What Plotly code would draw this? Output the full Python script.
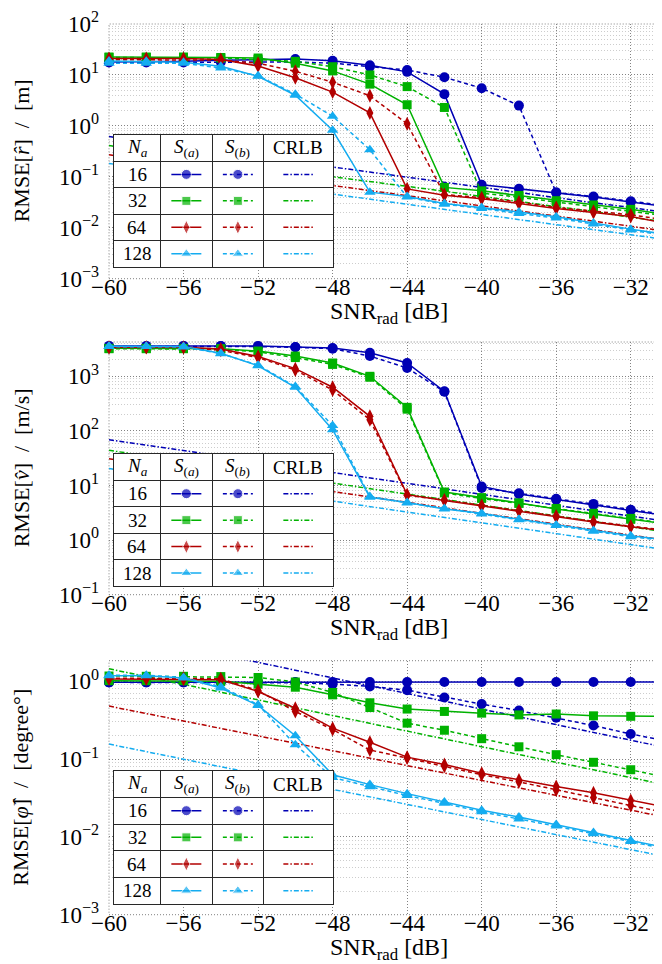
import plotly.graph_objects as go

# ---------------- data ----------------
SNR = [-60, -58, -56, -54, -52, -50, -48, -46, -44, -42, -40, -38, -36, -34, -32, -30]
X_TICKS = [-60, -56, -52, -48, -44, -40, -36, -32]
X_TICK_LABELS = ["−60", "−56", "−52", "−48", "−44", "−40", "−36", "−32"]
NA = [16, 32, 64, 128]

# Panel 1: RMSE of range [m]
r_sa_16 = [18, 18, 18.5, 19.5, 20, 20.5, 19, 15.5, 11.5, 4.2, 0.070, 0.058, 0.049, 0.040, 0.032, 0.026]
r_sb_16 = [17.5, 17.5, 17.5, 18, 18, 18, 17, 14.5, 12.5, 9.0, 5.5, 2.5, 0.049, 0.041, 0.033, 0.027]
r_cr_16 = [0.62, 0.49, 0.39, 0.31, 0.25, 0.196, 0.156, 0.124, 0.098, 0.078, 0.062, 0.049, 0.039, 0.031, 0.025, 0.0196]
r_sa_32 = [22.5, 22.5, 22.5, 22, 21.5, 17, 12, 6.6, 2.6, 0.062, 0.053, 0.043, 0.034, 0.028, 0.023, 0.018]
r_sb_32 = [22, 22, 22, 21.5, 20, 18.5, 14.5, 10, 5.9, 2.3, 0.048, 0.040, 0.032, 0.026, 0.021, 0.017]
r_cr_32 = [0.41, 0.33, 0.26, 0.21, 0.16, 0.13, 0.10, 0.082, 0.065, 0.052, 0.041, 0.033, 0.026, 0.021, 0.016, 0.013]
r_sa_64 = [21, 21, 21, 20, 15, 8.8, 4.6, 1.8, 0.058, 0.0435, 0.037, 0.030, 0.024, 0.020, 0.0167, 0.012]
r_sb_64 = [20, 20, 20, 19.5, 17, 11.8, 7.2, 3.9, 1.1, 0.045, 0.039, 0.032, 0.025, 0.021, 0.018, 0.014]
r_cr_64 = [0.27, 0.21, 0.17, 0.135, 0.107, 0.085, 0.068, 0.054, 0.043, 0.034, 0.027, 0.021, 0.017, 0.0135, 0.0107, 0.0085]
r_sa_128 = [18.8, 18.5, 17.7, 14.8, 9.4, 4.0, 0.82, 0.050, 0.041, 0.030, 0.025, 0.0205, 0.0165, 0.0124, 0.0094, 0.0073]
r_sb_128 = [17, 17, 17, 13.7, 9.6, 4.2, 1.55, 0.34, 0.040, 0.029, 0.024, 0.019, 0.0155, 0.0118, 0.0090, 0.0069]
r_cr_128 = [0.183, 0.145, 0.115, 0.092, 0.073, 0.058, 0.046, 0.036, 0.029, 0.023, 0.018, 0.0145, 0.0115, 0.0092, 0.0073, 0.0058]

# Panel 2: RMSE of velocity [m/s]
v_sa_16 = [3600, 3600, 3600, 3600, 3600, 3450, 3300, 2700, 1750, 530, 9.6, 7.0, 5.5, 4.4, 3.5, 2.8]
v_sb_16 = [3500, 3500, 3550, 3550, 3500, 3400, 3200, 2350, 1420, 520, 9.0, 7.2, 5.7, 4.6, 3.6, 2.9]
v_cr_16 = [69, 55, 43.5, 34.5, 27.5, 21.8, 17.3, 13.8, 10.9, 8.7, 6.9, 5.5, 4.35, 3.45, 2.75, 2.18]
v_sa_32 = [3250, 3250, 3250, 3200, 2900, 2350, 1750, 1000, 270, 7.6, 6.0, 4.8, 3.7, 3.0, 2.4, 1.97]
v_sb_32 = [3200, 3200, 3200, 3150, 2800, 2200, 1650, 960, 250, 7.3, 5.8, 4.7, 3.8, 3.1, 2.5, 2.0]
v_cr_32 = [44, 35, 27.8, 22, 17.5, 13.9, 11.0, 8.8, 7.0, 5.5, 4.4, 3.5, 2.78, 2.2, 1.75, 1.39]
v_sa_64 = [3400, 3400, 3400, 3150, 2300, 1380, 630, 185, 6.8, 5.3, 4.2, 3.4, 2.65, 2.15, 1.75, 1.45]
v_sb_64 = [3350, 3350, 3350, 3000, 2200, 1300, 560, 160, 6.6, 5.4, 4.3, 3.5, 2.75, 2.2, 1.8, 1.5]
v_cr_64 = [31, 24.6, 19.6, 15.5, 12.3, 9.8, 7.8, 6.2, 4.9, 3.9, 3.1, 2.46, 1.96, 1.55, 1.23, 0.98]
v_sa_128 = [3550, 3550, 3500, 2650, 1560, 630, 105, 6.1, 4.9, 3.7, 3.1, 2.4, 1.9, 1.5, 1.2, 1.0]
v_sb_128 = [3500, 3500, 3450, 2600, 1600, 650, 125, 6.3, 4.8, 3.8, 3.0, 2.35, 1.85, 1.45, 1.15, 0.97]
v_cr_128 = [20.4, 16.2, 12.9, 10.2, 8.1, 6.45, 5.1, 4.07, 3.23, 2.57, 2.04, 1.62, 1.29, 1.02, 0.81, 0.66]

# Panel 3: RMSE of angle [degree]
p_sa_16 = [0.97, 0.97, 0.97, 0.98, 0.98, 0.98, 0.98, 0.98, 0.98, 0.98, 0.98, 0.98, 0.98, 0.98, 0.98, 0.98]
p_sb_16 = [0.97, 0.97, 0.97, 0.98, 0.97, 0.96, 0.92, 0.86, 0.77, 0.62, 0.51, 0.42, 0.34, 0.27, 0.21, 0.17]
p_cr_16 = [4.4, 3.5, 2.78, 2.2, 1.75, 1.39, 1.1, 0.88, 0.70, 0.55, 0.44, 0.35, 0.278, 0.22, 0.175, 0.139]
p_sa_32 = [1.02, 1.02, 1.02, 1.0, 0.92, 0.84, 0.67, 0.53, 0.44, 0.41, 0.39, 0.37, 0.38, 0.36, 0.355, 0.355]
p_sb_32 = [1.17, 1.16, 1.16, 1.15, 1.12, 0.98, 0.72, 0.46, 0.29, 0.235, 0.183, 0.144, 0.114, 0.091, 0.073, 0.058]
p_cr_32 = [1.45, 1.15, 0.91, 0.73, 0.58, 0.46, 0.365, 0.29, 0.23, 0.183, 0.145, 0.115, 0.091, 0.073, 0.058, 0.046]
p_sa_64 = [1.07, 1.07, 1.06, 1.05, 0.74, 0.45, 0.25, 0.165, 0.106, 0.085, 0.066, 0.054, 0.0445, 0.037, 0.0294, 0.0238]
p_sb_64 = [1.1, 1.1, 1.1, 1.08, 0.76, 0.41, 0.24, 0.131, 0.103, 0.081, 0.063, 0.051, 0.040, 0.032, 0.0253, 0.0203]
p_cr_64 = [0.48, 0.385, 0.31, 0.248, 0.199, 0.160, 0.128, 0.103, 0.083, 0.066, 0.053, 0.0427, 0.0342, 0.0274, 0.022, 0.0177]
p_sa_128 = [1.18, 1.18, 1.1, 0.82, 0.49, 0.2, 0.063, 0.047, 0.036, 0.028, 0.022, 0.018, 0.0144, 0.0114, 0.0090, 0.0072]
p_sb_128 = [1.2, 1.2, 1.12, 0.85, 0.5, 0.153, 0.058, 0.044, 0.034, 0.027, 0.021, 0.017, 0.0138, 0.011, 0.0087, 0.0069]
p_cr_128 = [0.156, 0.125, 0.10, 0.080, 0.064, 0.051, 0.041, 0.033, 0.026, 0.021, 0.0168, 0.0134, 0.0107, 0.0086, 0.0069, 0.0055]

TABLE_HEADERS = ["<i>N</i><sub><i>a</i></sub>", "<i>S</i><sub>(<i>a</i>)</sub>",
                 "<i>S</i><sub>(<i>b</i>)</sub>", "CRLB"]
Y_TITLES = ["RMSE[<i>r̂</i>]  /  [m]", "RMSE[<i>v̂</i>]  /  [m/s]", "RMSE[<i>φ̂</i>]  /  [degree°]"]
X_TITLE = "SNR<sub>rad</sub> [dB]"

# ---------------- style ----------------
W, H = 662, 964
FONT = "'Liberation Serif', 'Times New Roman', Tinos, 'DejaVu Serif', serif"
COLORS = {16: "rgb(0,0,180)", 32: "rgb(0,178,0)", 64: "rgb(178,0,0)", 128: "rgb(20,172,240)"}
SYMBOLS = {16: "circle", 32: "square", 64: "diamond-tall", 128: "triangle-up"}
MSIZE = {16: 10, 32: 9, 64: 10, 128: 10}
DASH_B = "4px,3px"
DASH_CR = "5px,2px,1.5px,2px"
LW = 1.5
MAJOR = "rgb(130,130,130)"
MINOR = "rgb(205,205,205)"
DOT = "1px,2px"

# pixel geometry
PX_L, PX_R = 101, 660
PANEL_PX = [(16, 270.7), (334, 586.7), (652.7, 906.7)]
Y_RANGES = [[-3, 2], [-1, 3.628], [-3, 0.265]]
Y_TICKS = [[1e-3, 1e-2, 1e-1, 1, 10, 100], [0.1, 1, 10, 100, 1000], [1e-3, 1e-2, 1e-1, 1]]
Y_TICK_TEXT = [["10<sup>−3</sup>", "10<sup>−2</sup>", "10<sup>−1</sup>", "10<sup>0</sup>", "10<sup>1</sup>", "10<sup>2</sup>"],
               ["10<sup>−1</sup>", "10<sup>0</sup>", "10<sup>1</sup>", "10<sup>2</sup>", "10<sup>3</sup>"],
               ["10<sup>−3</sup>", "10<sup>−2</sup>", "10<sup>−1</sup>", "10<sup>0</sup>"]]
TABLE_PX_X = (106, 325)
TABLE_PX_Y = [(126.7, 259), (446, 578.3), (762.7, 896)]
COL_BOUNDS = [0.0, 0.2132, 0.4475, 0.6836, 1.0]

panels = [
    {16: (r_sa_16, r_sb_16, r_cr_16), 32: (r_sa_32, r_sb_32, r_cr_32),
     64: (r_sa_64, r_sb_64, r_cr_64), 128: (r_sa_128, r_sb_128, r_cr_128)},
    {16: (v_sa_16, v_sb_16, v_cr_16), 32: (v_sa_32, v_sb_32, v_cr_32),
     64: (v_sa_64, v_sb_64, v_cr_64), 128: (v_sa_128, v_sb_128, v_cr_128)},
    {16: (p_sa_16, p_sb_16, p_cr_16), 32: (p_sa_32, p_sb_32, p_cr_32),
     64: (p_sa_64, p_sb_64, p_cr_64), 128: (p_sa_128, p_sb_128, p_cr_128)},
]


def px_y(v):
    return 1 - v / H


def minor_vals(lo, hi):
    out = []
    for e in range(lo, hi + 1):
        for m in range(2, 10):
            out.append(m * 10 ** e)
    return out


fig = go.Figure()
layout = dict(width=W, height=H, autosize=False,
              margin=dict(l=0, r=0, t=0, b=0, pad=0, autoexpand=False),
              paper_bgcolor="white", plot_bgcolor="white",
              font=dict(family=FONT, color="black", size=23), showlegend=False)
annotations = []
shapes = []

for i, data in enumerate(panels):
    n = "" if i == 0 else str(i + 1)
    xa, ya = "x" + n, "y" + n
    top, bot = PANEL_PX[i]
    layout["xaxis" + n] = dict(
        domain=[PX_L / W, PX_R / W], range=[-60, -30], anchor=ya, automargin=False,
        tickmode="array", tickvals=X_TICKS, ticktext=X_TICK_LABELS,
        showgrid=True, gridcolor=MAJOR, griddash=DOT, gridwidth=1,
        zeroline=False, showline=False, ticks="", ticklabelstandoff=-8,
        tickfont=dict(family=FONT, size=23))
    layout["yaxis" + n] = dict(
        type="log", domain=[px_y(bot), px_y(top)], range=Y_RANGES[i], anchor=xa, automargin=False,
        tickmode="array", tickvals=Y_TICKS[i], ticktext=Y_TICK_TEXT[i],
        showgrid=True, gridcolor=MAJOR, griddash=DOT, gridwidth=1,
        minor=dict(tickvals=minor_vals(int(Y_RANGES[i][0]), int(Y_RANGES[i][1])),
                   showgrid=True, gridcolor=MINOR, griddash=DOT, gridwidth=1, ticks=""),
        zeroline=False, showline=False, ticks="", ticklabelstandoff=9,
        tickfont=dict(family=FONT, size=23))
    shapes.append(dict(type="rect", xref=xa + " domain", yref=ya + " domain",
                       x0=0, x1=1, y0=0, y1=1, layer="below",
                       line=dict(color=MAJOR, width=1, dash=DOT)))

    for na in NA:
        sa, sb, cr = data[na]
        c = COLORS[na]
        fig.add_trace(go.Scatter(x=SNR, y=sa, xaxis=xa, yaxis=ya, mode="lines+markers",
                                 line=dict(color=c, width=LW),
                                 marker=dict(symbol=SYMBOLS[na], size=MSIZE[na], color=c),
                                 cliponaxis=False))
        fig.add_trace(go.Scatter(x=SNR, y=sb, xaxis=xa, yaxis=ya, mode="lines+markers",
                                 line=dict(color=c, width=LW, dash=DASH_B),
                                 marker=dict(symbol=SYMBOLS[na], size=MSIZE[na], color=c),
                                 cliponaxis=False))
        fig.add_trace(go.Scatter(x=SNR, y=cr, xaxis=xa, yaxis=ya, mode="lines",
                                 line=dict(color=c, width=LW, dash=DASH_CR)))

    # axis titles
    annotations.append(dict(text=X_TITLE, xref="paper", yref="paper",
                            x=(PX_L + PX_R) / 2 / W, y=px_y(bot + 34),
                            xanchor="center", yanchor="middle", showarrow=False,
                            font=dict(family=FONT, size=24)))
    annotations.append(dict(text=Y_TITLES[i], xref="paper", yref="paper",
                            x=13 / W, y=px_y((top + bot) / 2), textangle=-90,
                            xanchor="center", yanchor="middle", showarrow=False,
                            font=dict(family=FONT, size=22)))

    # ---- table (legend) as an overlapping subplot ----
    tn = str(i + 4)
    txa, tya = "x" + tn, "y" + tn
    ttop, tbot = TABLE_PX_Y[i]
    layout["xaxis" + tn] = dict(
        domain=[TABLE_PX_X[0] / W, TABLE_PX_X[1] / W], range=[0, 1], anchor=tya, automargin=False,
        tickmode="array", tickvals=COL_BOUNDS[1:-1], showticklabels=False, ticks="",
        showgrid=True, gridcolor="rgb(40,40,40)", gridwidth=1.4,
        showline=True, mirror=True, linecolor="rgb(40,40,40)", linewidth=1.4,
        zeroline=False, fixedrange=True)
    layout["yaxis" + tn] = dict(
        domain=[px_y(tbot), px_y(ttop)], range=[0, 5], anchor=txa, automargin=False,
        tickmode="array", tickvals=[1, 2, 3, 4], showticklabels=False, ticks="",
        showgrid=True, gridcolor="rgb(40,40,40)", gridwidth=1.4,
        showline=True, mirror=True, linecolor="rgb(40,40,40)", linewidth=1.4,
        zeroline=False, fixedrange=True)
    centers = [(COL_BOUNDS[k] + COL_BOUNDS[k + 1]) / 2 for k in range(4)]
    half = 15 / (TABLE_PX_X[1] - TABLE_PX_X[0])
    for k, h in enumerate(TABLE_HEADERS):
        annotations.append(dict(text=h, xref=txa, yref=tya, x=centers[k], y=4.5,
                                showarrow=False, font=dict(family=FONT, size=19)))
    for r, na in enumerate(NA):
        yrow = 3.5 - r
        c = COLORS[na]
        annotations.append(dict(text=str(na), xref=txa, yref=tya, x=centers[0], y=yrow,
                                showarrow=False, font=dict(family=FONT, size=19)))
        for col, dash, marker in ((1, "solid", True), (2, DASH_B, True), (3, DASH_CR, False)):
            cx = centers[col]
            fig.add_trace(go.Scatter(
                x=[cx - half, cx, cx + half], y=[yrow] * 3, xaxis=txa, yaxis=tya,
                mode="lines+markers" if marker else "lines",
                line=dict(color=c, width=LW, dash=dash),
                marker=dict(symbol=SYMBOLS[na], size=[0, MSIZE[na], 0], color=c)))

layout["annotations"] = annotations
layout["shapes"] = shapes
fig.update_layout(**layout)
fig.write_html("out.html")
